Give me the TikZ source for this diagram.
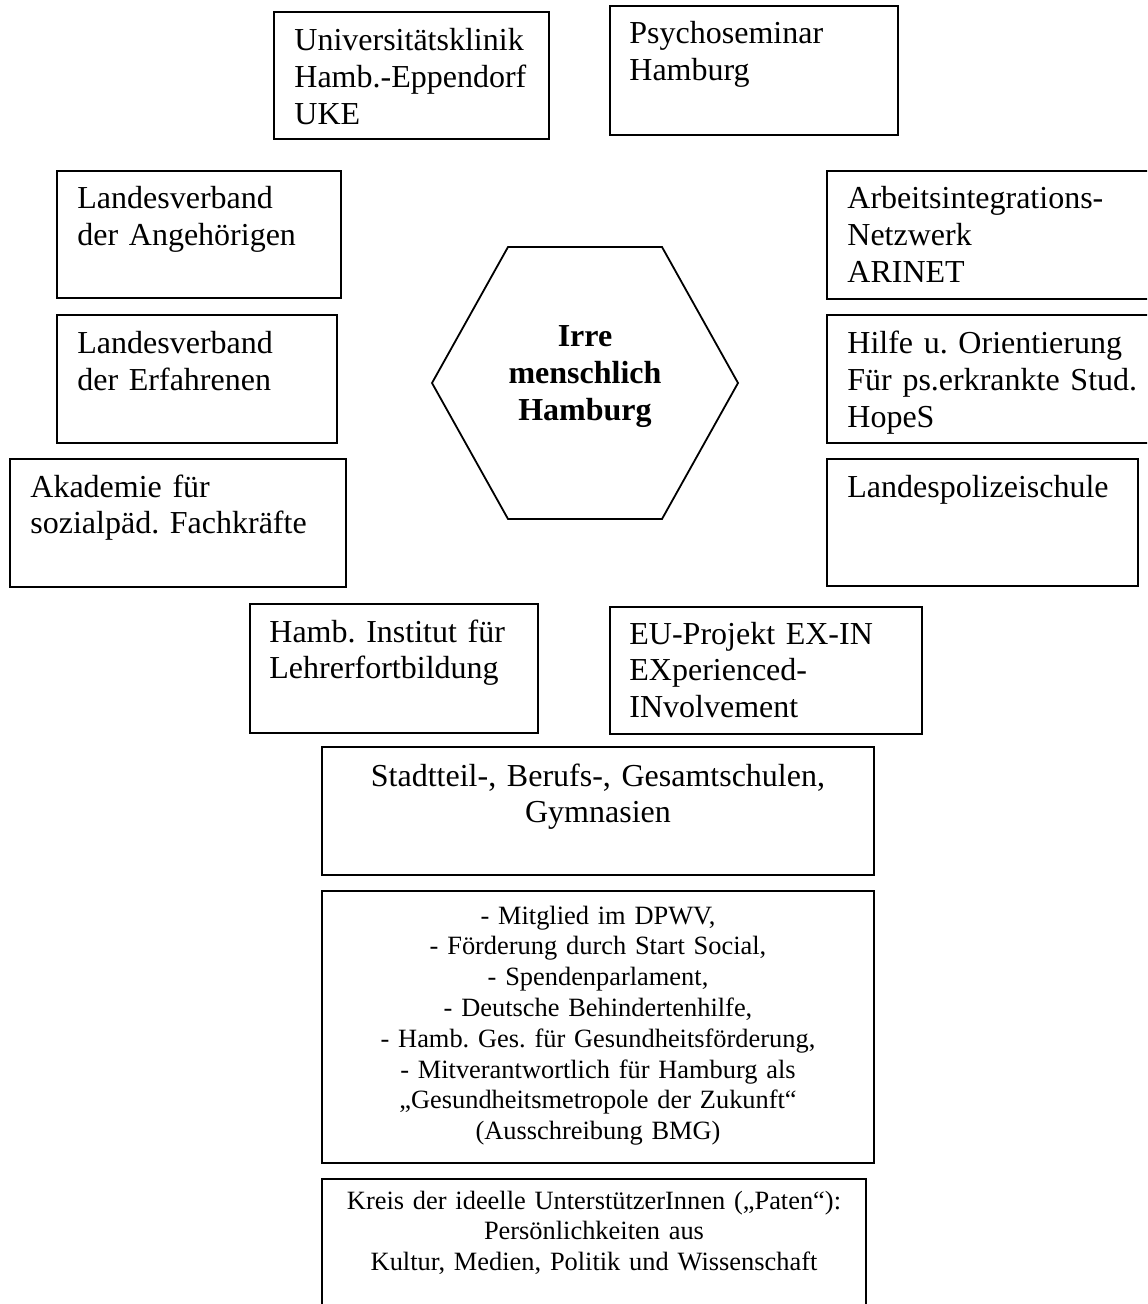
\documentclass[tikz,border=0pt]{standalone}
\usepackage{fontspec}
\setmainfont{Liberation Serif}
\usetikzlibrary{fit}
\frenchspacing

\begin{document}
\begin{tikzpicture}[
			x=0.5pt, y=-0.5pt,
			box/.style={rectangle, draw, line width=1pt, inner sep=0pt},
			txt/.style={anchor=base west, align=left, inner sep=0pt, text width=#1,
				font=\fontsize{16}{18.35}\selectfont},
			ctxt/.style={anchor=base, align=center, inner sep=0pt, text width=#1,
				font=\fontsize{16}{18.35}\selectfont},
			small/.style={anchor=base, align=center, inner sep=0pt, text width=#1,
				font=\fontsize{13.2}{15.4}\selectfont},
			hexa/.style={draw, line width=0.9pt}
		]
			\useasboundingbox (0,0) rectangle (1147,1304);
			\clip (0,0) rectangle (1147,1304);

			% Mitte
			\draw[hexa] (432,383) -- (508,247) -- (662,247) -- (738,383) -- (662,519) -- (508,519) -- cycle;
			\node[ctxt=150pt, font=\fontsize{16}{18.35}\selectfont\bfseries] (irre) at (585,347) {Irre\\menschlich\\Hamburg};

			% oben
			\node[box, fit={(274,12) (549,139)}] (uke) {};
			\node[txt=127pt] (uke-t) at ([shift={(21,40)}]uke.north west) {Universitätsklinik\\Hamb.-Eppendorf\\UKE};
			\node[box, fit={(610,6) (898,135)}] (psy) {};
			\node[txt=133pt] (psy-t) at ([shift={(20,39)}]psy.north west) {Psychoseminar\\Hamburg};

			% links
			\node[box, fit={(57,171) (341,298)}] (lva) {};
			\node[txt=131pt] (lva-t) at ([shift={(21,39)}]lva.north west) {Landesverband\\der Angehörigen};
			\node[box, fit={(57,315) (337,443)}] (lve) {};
			\node[txt=129pt] (lve-t) at ([shift={(21,40)}]lve.north west) {Landesverband\\der Erfahrenen};
			\node[box, fit={(10,459) (346,587)}] (akad) {};
			\node[txt=157pt] (akad-t) at ([shift={(21,39)}]akad.north west) {Akademie für\\sozialpäd. Fachkräfte};

			% rechts
			\node[box, fit={(827,171) (1160,299)}] (arinet) {};
			\node[txt=149pt] (arinet-t) at ([shift={(21,39)}]arinet.north west) {Arbeitsintegrations-\\Netzwerk\\ARINET};
			\node[box, fit={(827,315) (1160,443)}] (hopes) {};
			\node[txt=149pt] (hopes-t) at ([shift={(21,40)}]hopes.north west) {Hilfe u. Orientierung\\Für ps.erkrankte Stud.\\HopeS};
			\node[box, fit={(827,459) (1138,586)}] (lps) {};
			\node[txt=145pt] (lps-t) at ([shift={(21,39)}]lps.north west) {Landespolizeischule};

			% unten
			\node[box, fit={(250,604) (538,733)}] (lifl) {};
			\node[txt=134pt] (lifl-t) at ([shift={(20,39)}]lifl.north west) {Hamb. Institut für\\Lehrerfortbildung};
			\node[box, fit={(610,607) (922,734)}] (exin) {};
			\node[txt=146pt] (exin-t) at ([shift={(20,38)}]exin.north west) {EU-Projekt EX-IN\\EXperienced-\\INvolvement};
			\node[box, fit={(322,747) (874,875)}] (schulen) {};
			\node[ctxt=276pt] (schulen-t) at ([shift={(0,40)}]schulen.north) {Stadtteil-, Berufs-, Gesamtschulen,\\Gymnasien};
			\node[box, fit={(322,891) (874,1163)}] (foerd) {};
			\node[small=276pt] (foerd-t) at ([shift={(0,34)}]foerd.north) {- Mitglied im DPWV,\\- Förderung durch Start Social,\\- Spendenparlament,\\- Deutsche Behindertenhilfe,\\- Hamb. Ges. für Gesundheitsförderung,\\- Mitverantwortlich für Hamburg als\\„Gesundheitsmetropole der Zukunft“\\(Ausschreibung BMG)};
			\node[box, fit={(322,1179) (866,1320)}] (paten) {};
			\node[small=272pt] (paten-t) at ([shift={(0,31)}]paten.north) {Kreis der ideelle UnterstützerInnen („Paten“):\\Persönlichkeiten aus\\Kultur, Medien, Politik und Wissenschaft};
		\end{tikzpicture}
\end{document}
